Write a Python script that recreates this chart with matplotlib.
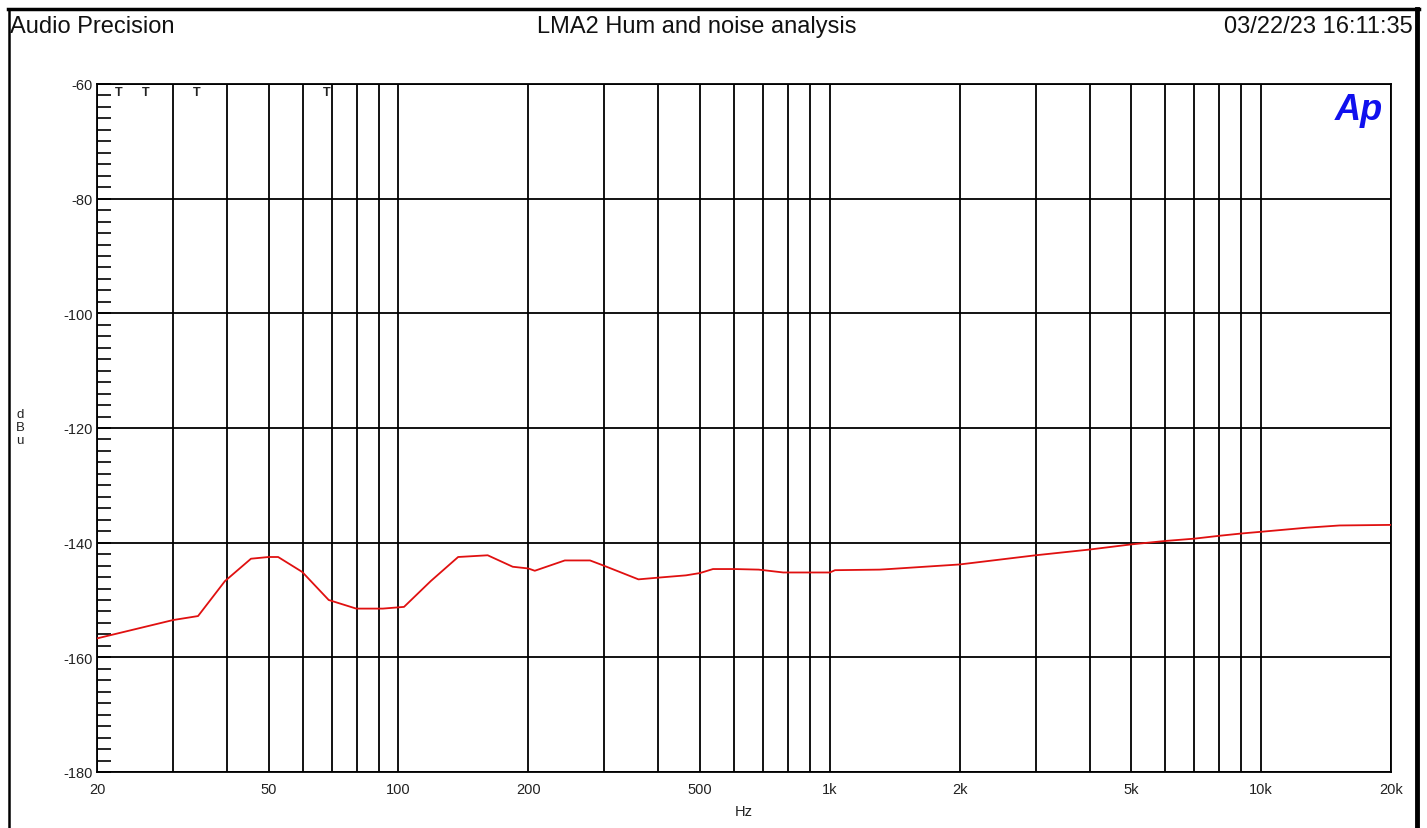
#!/usr/bin/env python3

import matplotlib
matplotlib.use("Agg")
import matplotlib.pyplot as plt
from matplotlib.lines import Line2D
from matplotlib.ticker import FixedLocator, NullFormatter

plt.rcParams['font.family'] = ['Liberation Sans', 'DejaVu Sans']
plt.rcParams['axes.unicode_minus'] = False

# hum and noise sweep, Hz vs dBu
freq_hz = [20, 30, 34.3, 39.6, 45.5, 50, 52.6, 59.8, 68.9, 79.8, 92, 103,
           118.8, 137.5, 161, 184, 200, 207, 243, 278, 299, 360, 400, 464,
           500, 536, 600, 684, 780, 1000, 1028, 1304, 1374, 2000, 3000,
           4000, 5000, 6000, 7000, 8000, 9000, 10000, 12700, 15200, 20000]
level_dbu = [-156.7, -153.5, -152.8, -146.7, -142.8, -142.5, -142.5, -145.1,
             -150.0, -151.5, -151.5, -151.2, -146.7, -142.5, -142.2, -144.2,
             -144.5, -144.9, -143.1, -143.1, -144.0, -146.4, -146.1, -145.7,
             -145.3, -144.6, -144.6, -144.7, -145.2, -145.2, -144.8, -144.7,
             -144.6, -143.8, -142.2, -141.2, -140.3, -139.7, -139.3, -138.8,
             -138.4, -138.1, -137.4, -137.0, -136.9]

x_label_vals = [20, 50, 100, 200, 500, 1000, 2000, 5000, 10000, 20000]
x_label_text = ["20", "50", "100", "200", "500", "1k", "2k", "5k", "10k", "20k"]
x_grid = [m * d for d in (10, 100, 1000) for m in range(2, 11)] + [20000]
y_major = [-60, -80, -100, -120, -140, -160, -180]
y_minor = list(range(-180, -59, 2))
marker_freqs = [22.5, 26, 34, 68]

W, H = 1427, 829
fig = plt.figure(figsize=(W / 100, H / 100), dpi=100)
ax = fig.add_axes([97 / W, (H - 773) / H, (1391 - 97) / W, (773 - 85) / H])

ax.set_xscale('log')
ax.set_xlim(20, 20000)
ax.set_ylim(-180, -60)

for f in x_grid:
    ax.axvline(f, color='black', lw=1.3, zorder=1)
for v in y_major:
    ax.axhline(v, color='black', lw=1.3, zorder=1)

ax.plot(freq_hz, level_dbu, color='#e01010', lw=1.3, zorder=3)

ax.xaxis.set_major_locator(FixedLocator(x_label_vals))
ax.xaxis.set_minor_locator(FixedLocator([]))
ax.set_xticklabels(x_label_text)
ax.xaxis.set_minor_formatter(NullFormatter())
ax.tick_params(axis='x', length=0, pad=7, labelsize=10.5, colors='#222222')

ax.yaxis.set_major_locator(FixedLocator(y_major))
ax.yaxis.set_minor_locator(FixedLocator(y_minor))
ax.tick_params(axis='y', which='both', direction='in', length=10, width=1.2,
               pad=3, labelsize=10.5, colors='black')
ax.tick_params(axis='y', labelcolor='#222222')

for s in ax.spines.values():
    s.set_linewidth(1.3)
    s.set_color('black')

for f in marker_freqs:
    ax.text(f, -60.3, "T", ha='center', va='top', fontsize=9,
            fontweight='bold', color='#222222')

ax.set_xlabel("Hz", fontsize=10.5, labelpad=6, color='#222222')
fig.text(20 / W, 1 - 428 / H, "d\nB\nu", ha='center', va='center',
         fontsize=9.5, linespacing=1.1, color='#222222')

ax.text(0.994, 0.988, "Ap", transform=ax.transAxes, ha='right', va='top',
        fontsize=26, fontweight='bold', fontstyle='italic', color='#1010ee')

# header strip
fig.text(10 / W, 1 - 27 / H, "Audio Precision", ha='left', va='center',
         fontsize=17, color='#111111')
fig.text(697 / W, 1 - 27 / H, "LMA2 Hum and noise analysis", ha='center',
         va='center', fontsize=17, color='#111111')
fig.text(1413 / W, 1 - 27 / H, "03/22/23 16:11:35", ha='right', va='center',
         fontsize=17, color='#111111')

# outer frame
fig.add_artist(Line2D([8 / W, 1419 / W], [1 - 10 / H, 1 - 10 / H],
                      transform=fig.transFigure, color='black', lw=2.5))
fig.add_artist(Line2D([9 / W, 9 / W], [0, 1 - 10 / H],
                      transform=fig.transFigure, color='black', lw=1.8))
fig.add_artist(Line2D([1417 / W, 1417 / W], [0, 1 - 10 / H],
                      transform=fig.transFigure, color='black', lw=3.5))

fig.savefig("out.png", dpi=100)
plt.close(fig)
